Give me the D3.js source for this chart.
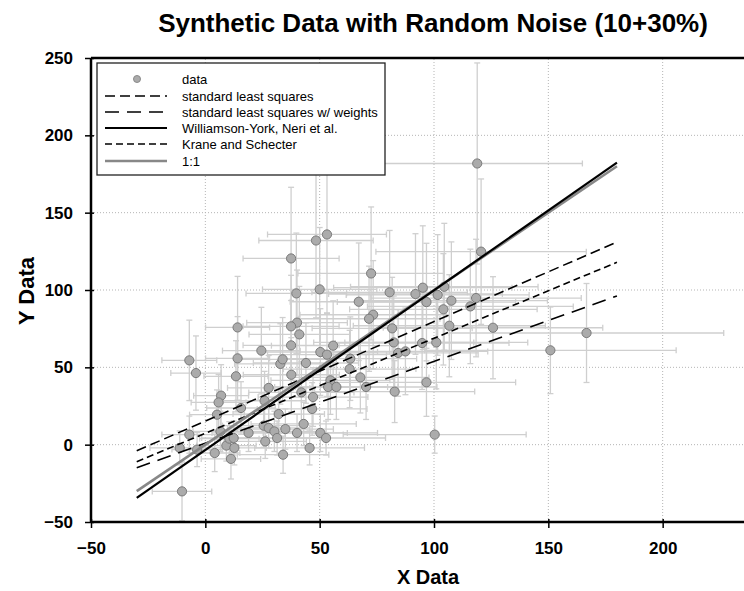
<!DOCTYPE html>
<html>
<head>
<meta charset="utf-8">
<script src="https://cdn.jsdelivr.net/npm/d3@7"></script>
<style>
  body { margin: 0; background: #fff; }
  svg { font-family: "Liberation Sans", Arial, sans-serif; }
  .tick text { font-weight: bold; font-size: 17px; }
</style>
</head>
<body>
<div id="chart"></div>
<script>
// data
var xData = [53.2, 48.4, 37.5, 50.0, 39.8, 40.1, 37.5, 14.1, 118.9, 120.6,
  72.5, 67.1, 80.6, 95.1, 91.9, 104.5, 101.6, 96.7, 107.6, 118.4,
  115.9, 104.1, 73.4, 71.6, 81.7, 106.7, 125.8, 41.1, 24.5, 37.5,
  -7.0, -4.1, 14.1, 13.4, 32.8, 33.8, 44.0, 50.3, 55.9, 53.2,
  63.1, 37.6, 6.9, 5.8, 5.1, 15.6, 27.7, 25.9, 42.0, 47.1,
  46.7, 32.1, 54.7, 53.7, 57.3, -7.0, -11.2, -3.6, 4.1, 6.6,
  9.2, 11.2, 12.7, 10.5, 12.4, 18.9, 25.5, 27.7, 30.2, 31.4,
  26.2, 35.0, 40.1, 34.0, 43.0, 45.6, 50.3, 52.8, -10.2, 82.4,
  94.8, 101.0, 84.3, 87.5, 63.4, 67.8, 70.3, 82.8, 96.7, 100.3,
  150.9, 166.7];
var yData = [135.9, 132.0, 120.4, 100.4, 97.8, 78.9, 76.5, 75.8, 181.8, 124.8,
  110.7, 92.4, 98.5, 101.5, 97.4, 102.1, 96.8, 92.2, 93.1, 94.8,
  89.4, 87.5, 84.0, 81.4, 75.2, 76.9, 75.6, 71.3, 60.8, 64.2,
  54.5, 46.3, 55.8, 44.2, 52.2, 55.2, 52.8, 59.9, 64.0, 58.2,
  48.9, 45.2, 31.7, 27.3, 19.4, 23.7, 36.7, 28.4, 33.8, 30.8,
  23.1, 19.8, 41.6, 37.3, 37.3, 6.5, -2.1, -3.2, -5.4, 8.6,
  -0.6, -9.2, -2.1, 3.9, 4.3, 7.6, 12.3, 10.8, 8.6, 4.3,
  2.1, 10.1, 7.6, -6.5, 13.4, -2.1, 7.6, 4.3, -30.2, 66.1,
  65.7, 66.1, 59.3, 60.3, 55.6, 43.5, 37.3, 34.3, 40.3, 6.5,
  61.0, 72.2];
var xErr = [26, 25, 21, 25, 22, 22, 21, 14, 46, 46,
  32, 30, 34, 39, 38, 41, 40, 39, 42, 46,
  45, 41, 32, 31, 35, 42, 48, 22, 17, 21,
  12, 11, 14, 14, 20, 20, 23, 25, 27, 26,
  29, 21, 12, 12, 12, 15, 18, 18, 23, 24,
  24, 20, 26, 26, 27, 12, 13, 11, 11, 12,
  13, 13, 14, 13, 14, 16, 18, 18, 19, 19,
  18, 21, 22, 20, 23, 24, 25, 26, 13, 35,
  38, 40, 35, 36, 29, 30, 31, 35, 39, 40,
  55, 60];
var yErr = [51, 50, 46, 40, 39, 34, 33, 33, 65, 47,
  43, 38, 40, 40, 39, 41, 39, 38, 38, 38,
  37, 36, 35, 34, 33, 33, 33, 31, 28, 29,
  26, 24, 27, 23, 26, 27, 26, 28, 29, 27,
  25, 24, 20, 18, 16, 17, 21, 19, 20, 19,
  17, 16, 22, 21, 21, 12, 11, 11, 12, 13,
  10, 13, 11, 11, 11, 12, 14, 13, 13, 11,
  11, 13, 12, 12, 14, 11, 12, 11, 19, 30,
  30, 30, 28, 28, 27, 23, 21, 20, 22, 12,
  28, 32];

// fitted lines: y = slope * x + intercept, drawn from x = -30 to 180
var fitNames = ["standard least squares", "standard least squares w/ weights",
  "Williamson-York, Neri et al.", "Krane and Schecter", "1:1"];
var fitSlopes = [0.643, 0.529, 1.032, 0.614, 1.0];
var fitIntercepts = [15.3, 0.9, -3.4, 7.4, 0.0];
var fitRange = [-30, 180];

var xTicks = [-50, 0, 50, 100, 150, 200, 250];
var yTicks = [-50, 0, 50, 100, 150, 200, 250];

var svgWidth = 744;
var svgHeight = 591;

var svg = d3.select("#chart")
  .append("svg")
  .attr("width", svgWidth)
  .attr("height", svgHeight);

var x = d3.scaleLinear().domain([-50, 250]).range([91, 777]);
var y = d3.scaleLinear().domain([-50, 250]).range([522, 58]);

// grid
svg.append("g").selectAll("line")
  .data(xTicks.slice(1))
  .enter().append("line")
  .attr("x1", d => x(d)).attr("x2", d => x(d))
  .attr("y1", y(-50)).attr("y2", y(250))
  .style("stroke", "#b5b5b5").style("stroke-width", 1)
  .style("stroke-dasharray", "1,2");
svg.append("g").selectAll("line")
  .data(yTicks.slice(1, -1))
  .enter().append("line")
  .attr("x1", x(-50)).attr("x2", x(250))
  .attr("y1", d => y(d)).attr("y2", d => y(d))
  .style("stroke", "#b5b5b5").style("stroke-width", 1)
  .style("stroke-dasharray", "1,2");

// error bars
var points = xData.map((d, i) => ({x: d, y: yData[i], ex: xErr[i], ey: yErr[i]}));
var barColor = "#cfcfcf";
var cap = 3;
var errGroup = svg.append("g")
  .style("stroke", barColor).style("stroke-width", 1.3);

var eb = errGroup.selectAll("g").data(points).enter().append("g");
eb.append("line")
  .attr("x1", d => x(d.x - d.ex)).attr("x2", d => x(d.x + d.ex))
  .attr("y1", d => y(d.y)).attr("y2", d => y(d.y));
eb.append("line")
  .attr("x1", d => x(d.x)).attr("x2", d => x(d.x))
  .attr("y1", d => y(d.y - d.ey)).attr("y2", d => y(d.y + d.ey));
eb.append("line")
  .attr("x1", d => x(d.x - d.ex)).attr("x2", d => x(d.x - d.ex))
  .attr("y1", d => y(d.y) - cap).attr("y2", d => y(d.y) + cap);
eb.append("line")
  .attr("x1", d => x(d.x + d.ex)).attr("x2", d => x(d.x + d.ex))
  .attr("y1", d => y(d.y) - cap).attr("y2", d => y(d.y) + cap);
eb.append("line")
  .attr("x1", d => x(d.x) - cap).attr("x2", d => x(d.x) + cap)
  .attr("y1", d => y(d.y - d.ey)).attr("y2", d => y(d.y - d.ey));
eb.append("line")
  .attr("x1", d => x(d.x) - cap).attr("x2", d => x(d.x) + cap)
  .attr("y1", d => y(d.y + d.ey)).attr("y2", d => y(d.y + d.ey));

// points
svg.append("g").selectAll("circle")
  .data(points)
  .enter().append("circle")
  .attr("cx", d => x(d.x))
  .attr("cy", d => y(d.y))
  .attr("r", 4.6)
  .style("fill", "#ababab")
  .style("stroke", "#7a7a7a")
  .style("stroke-width", 1);

// line styles
var fitStyles = [
  {color: "#000", width: 1.6, dash: "10,5"},
  {color: "#000", width: 1.6, dash: "14,8"},
  {color: "#000", width: 2.2, dash: null},
  {color: "#000", width: 1.6, dash: "7,4"},
  {color: "#888", width: 2.6, dash: null}
];
var drawOrder = [0, 1, 3, 4, 2];

var lineGroup = svg.append("g");
drawOrder.forEach(function(i) {
  var st = fitStyles[i];
  lineGroup.append("line")
    .attr("x1", x(fitRange[0]))
    .attr("y1", y(fitSlopes[i] * fitRange[0] + fitIntercepts[i]))
    .attr("x2", x(fitRange[1]))
    .attr("y2", y(fitSlopes[i] * fitRange[1] + fitIntercepts[i]))
    .style("stroke", st.color)
    .style("stroke-width", st.width)
    .style("stroke-dasharray", st.dash);
});

// axes
var leftAxis = d3.axisLeft(y).tickValues(yTicks).tickSize(6).tickPadding(12);
var bottomAxis = d3.axisBottom(x).tickValues(xTicks.slice(0, -1)).tickSize(6).tickPadding(14);

var yAxis = svg.append("g")
  .attr("transform", `translate(${x(-50)}, 0)`)
  .call(leftAxis);
var xAxis = svg.append("g")
  .attr("transform", `translate(0, ${y(-50)})`)
  .call(bottomAxis);

[xAxis, yAxis].forEach(function(ax) {
  ax.select(".domain").remove();
  ax.selectAll(".tick line").style("stroke", "#000").style("stroke-width", 1.5);
  ax.selectAll(".tick text").style("fill", "#000");
});
yAxis.selectAll(".tick line").attr("x1", 3);
xAxis.selectAll(".tick line").attr("y1", -3);

// frame
var frame = svg.append("g").style("stroke", "#000").style("stroke-width", 2.5);
frame.append("line").attr("x1", x(-50)).attr("x2", x(250)).attr("y1", y(-50)).attr("y2", y(-50));
frame.append("line").attr("x1", x(-50)).attr("x2", x(250)).attr("y1", y(250)).attr("y2", y(250));
frame.append("line").attr("x1", x(-50)).attr("x2", x(-50)).attr("y1", y(-50)).attr("y2", y(250));

// legend
var legend = svg.append("g");
legend.append("rect")
  .attr("x", 97).attr("y", 63)
  .attr("width", 288).attr("height", 112)
  .style("fill", "#fff")
  .style("stroke", "#222")
  .style("stroke-width", 1.3);

var legendRows = [79, 96, 112, 128, 144, 161];
legend.append("circle")
  .attr("cx", 137).attr("cy", legendRows[0])
  .attr("r", 3.5)
  .style("fill", "#ababab").style("stroke", "#8a8a8a");
legend.append("text")
  .attr("x", 182).attr("y", legendRows[0])
  .attr("dy", "0.35em")
  .style("font-size", "13px")
  .text("data");

fitNames.forEach(function(name, i) {
  var st = fitStyles[i];
  var ry = legendRows[i + 1];
  legend.append("line")
    .attr("x1", 105).attr("x2", 167)
    .attr("y1", ry).attr("y2", ry)
    .style("stroke", st.color)
    .style("stroke-width", st.width)
    .style("stroke-dasharray", st.dash);
  legend.append("text")
    .attr("x", 182).attr("y", ry)
    .attr("dy", "0.35em")
    .style("font-size", "13px")
    .text(name);
});

// titles
svg.append("text")
  .attr("x", 433).attr("y", 32)
  .attr("text-anchor", "middle")
  .style("font-weight", "bold").style("font-size", "26px")
  .text("Synthetic Data with Random Noise (10+30%)");

svg.append("text")
  .attr("x", 428).attr("y", 584)
  .attr("text-anchor", "middle")
  .style("font-weight", "bold").style("font-size", "20px")
  .text("X Data");

svg.append("text")
  .attr("transform", "translate(34, 291) rotate(-90)")
  .attr("text-anchor", "middle")
  .style("font-weight", "bold").style("font-size", "22px")
  .text("Y Data");
</script>
</body>
</html>
